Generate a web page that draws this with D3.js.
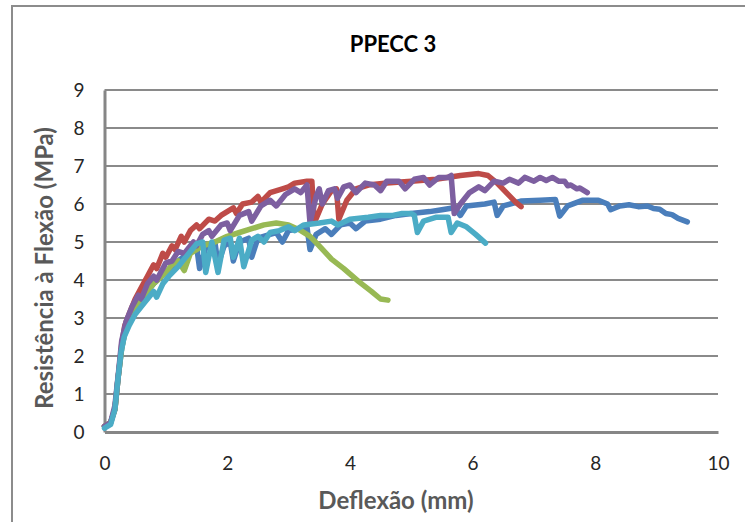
<!DOCTYPE html>
<html>
<head>
<meta charset="utf-8">
<script src="https://cdn.jsdelivr.net/npm/d3@7"></script>
<style>
  body { margin: 0; background: #fff; }
  text { font-family: Lato, "Open Sans", sans-serif; }
</style>
</head>
<body>
<svg id="chart" width="745" height="522"></svg>
<script>
const xTicks = [0, 2, 4, 6, 8, 10];
const yTicks = [0, 1, 2, 3, 4, 5, 6, 7, 8, 9];

// deflection (mm), strength (MPa)
const blue = [[0,0.15],[0.1,0.25],[0.17,0.6],[0.22,1.4],[0.28,2.2],[0.33,2.6],[0.45,3.1],[0.6,3.5],[0.8,3.9],[1.0,4.2],[1.2,4.5],[1.4,4.75],[1.5,4.9],[1.55,4.3],[1.65,4.85],[1.8,5.0],[1.85,4.4],[1.95,4.9],[2.05,5.0],[2.1,4.5],[2.2,5.0],[2.35,5.1],[2.4,4.6],[2.5,5.1],[2.7,5.2],[2.8,5.25],[2.9,5.0],[3.0,5.3],[3.2,5.35],[3.3,5.4],[3.35,4.8],[3.45,5.2],[3.6,5.35],[3.7,5.2],[3.85,5.45],[4.0,5.5],[4.1,5.35],[4.25,5.55],[4.5,5.6],[4.75,5.7],[5.0,5.75],[5.3,5.8],[5.5,5.85],[5.7,5.9],[5.8,5.7],[5.9,5.95],[6.2,6.0],[6.35,6.05],[6.4,5.7],[6.5,5.95],[6.8,6.08],[7.1,6.1],[7.35,6.12],[7.42,5.68],[7.55,5.95],[7.8,6.1],[8.05,6.1],[8.2,6.0],[8.25,5.85],[8.4,5.95],[8.55,5.98],[8.7,5.93],[8.85,5.95],[8.95,5.88],[9.05,5.86],[9.15,5.75],[9.25,5.72],[9.35,5.62],[9.5,5.53]];

const red = [[0,0.15],[0.1,0.25],[0.17,0.6],[0.22,1.4],[0.28,2.3],[0.33,2.8],[0.4,3.1],[0.5,3.5],[0.6,3.8],[0.7,4.1],[0.8,4.4],[0.85,4.3],[0.95,4.7],[1.0,4.6],[1.1,4.9],[1.15,4.8],[1.25,5.15],[1.3,5.0],[1.4,5.3],[1.5,5.45],[1.55,5.35],[1.7,5.6],[1.8,5.55],[1.9,5.7],[2.0,5.8],[2.1,5.9],[2.15,5.75],[2.25,6.0],[2.4,6.05],[2.5,6.2],[2.55,6.05],[2.7,6.3],[2.9,6.4],[3.0,6.45],[3.1,6.55],[3.3,6.6],[3.38,6.6],[3.42,5.5],[3.55,6.0],[3.7,6.35],[3.78,6.4],[3.82,5.6],[3.95,6.1],[4.1,6.4],[4.3,6.5],[4.6,6.55],[5.0,6.6],[5.4,6.65],[5.8,6.75],[6.1,6.8],[6.25,6.75],[6.4,6.55],[6.55,6.3],[6.7,6.05],[6.79,5.93]];

const green = [[0,0.15],[0.1,0.25],[0.17,0.6],[0.22,1.4],[0.28,2.2],[0.33,2.6],[0.45,3.1],[0.6,3.5],[0.8,3.9],[1.0,4.2],[1.1,4.4],[1.2,4.5],[1.3,4.25],[1.4,4.7],[1.6,4.9],[1.8,5.0],[2.0,5.15],[2.2,5.25],[2.4,5.35],[2.6,5.45],[2.8,5.5],[3.0,5.45],[3.2,5.3],[3.35,5.15],[3.5,4.9],[3.7,4.55],[3.9,4.3],[4.15,3.95],[4.35,3.7],[4.5,3.5],[4.62,3.47]];

const purple = [[0,0.15],[0.1,0.25],[0.17,0.7],[0.23,1.6],[0.28,2.4],[0.35,2.9],[0.45,3.3],[0.55,3.6],[0.6,3.5],[0.7,3.9],[0.8,4.1],[0.85,4.0],[1.0,4.45],[1.1,4.5],[1.2,4.75],[1.3,4.7],[1.45,5.0],[1.5,4.9],[1.6,5.2],[1.7,5.3],[1.75,5.15],[1.9,5.45],[2.0,5.5],[2.05,5.3],[2.2,5.7],[2.35,5.8],[2.4,5.55],[2.55,5.95],[2.7,6.1],[2.8,5.95],[2.95,6.25],[3.1,6.4],[3.2,6.3],[3.3,6.5],[3.35,5.5],[3.45,6.2],[3.5,6.4],[3.55,6.0],[3.65,6.35],[3.75,6.4],[3.8,6.15],[3.9,6.45],[4.0,6.5],[4.1,6.3],[4.25,6.55],[4.4,6.5],[4.5,6.35],[4.6,6.6],[4.8,6.6],[4.9,6.4],[5.05,6.65],[5.2,6.7],[5.3,6.5],[5.45,6.7],[5.6,6.7],[5.65,6.75],[5.7,5.75],[5.8,6.0],[5.95,6.3],[6.1,6.45],[6.2,6.35],[6.35,6.6],[6.5,6.55],[6.6,6.65],[6.75,6.55],[6.85,6.7],[7.0,6.6],[7.1,6.7],[7.2,6.62],[7.3,6.7],[7.4,6.6],[7.5,6.6],[7.55,6.48],[7.6,6.5],[7.7,6.4],[7.75,6.42],[7.87,6.3]];

const cyan = [[0,0.1],[0.1,0.2],[0.17,0.6],[0.22,1.4],[0.27,2.1],[0.32,2.5],[0.4,2.8],[0.5,3.1],[0.65,3.4],[0.8,3.7],[0.85,3.55],[0.95,3.9],[1.05,4.1],[1.2,4.35],[1.3,4.55],[1.4,4.75],[1.5,4.95],[1.6,5.0],[1.65,4.2],[1.75,5.0],[1.85,4.2],[1.95,5.05],[2.05,5.1],[2.1,4.6],[2.2,5.1],[2.27,4.35],[2.4,5.05],[2.5,5.15],[2.6,5.0],[2.7,5.25],[2.85,5.3],[3.0,5.4],[3.1,5.3],[3.25,5.45],[3.5,5.5],[3.7,5.55],[3.8,5.45],[4.0,5.6],[4.3,5.65],[4.5,5.7],[4.7,5.7],[4.85,5.75],[5.0,5.75],[5.05,5.7],[5.1,5.25],[5.2,5.55],[5.4,5.65],[5.6,5.65],[5.65,5.25],[5.75,5.5],[5.9,5.4],[6.05,5.2],[6.21,4.97]];

const series = [
  { values: blue,   color: '#4a7ebb' },
  { values: red,    color: '#be4b48' },
  { values: green,  color: '#98b954' },
  { values: purple, color: '#7d5fa0' },
  { values: cyan,   color: '#4bacc6' }
];

const svg = d3.select('#chart');

// outer chart frame
svg.append('rect')
  .attr('x', 12)
  .attr('y', 6)
  .attr('width', 760)
  .attr('height', 560)
  .attr('fill', 'none')
  .attr('stroke', '#8c8c8c')
  .attr('stroke-width', 2);

const x = d3.scaleLinear()
  .domain([0, 10])
  .range([104.5, 718]);

const y = d3.scaleLinear()
  .domain([0, 9])
  .range([432, 90]);

// gridlines
svg.append('g')
  .selectAll('line')
  .data(yTicks.slice(1))
  .join('line')
  .attr('x1', x(0))
  .attr('x2', x(10))
  .attr('y1', d => y(d))
  .attr('y2', d => y(d))
  .attr('stroke', '#8a8a8a')
  .attr('stroke-width', 2);

// axes
const xAxis = svg.append('g')
  .attr('transform', `translate(0, ${y(0)})`)
  .call(d3.axisBottom(x).tickValues(xTicks).tickSize(0).tickPadding(31));

const yAxis = svg.append('g')
  .attr('transform', `translate(${x(0)}, 0)`)
  .call(d3.axisLeft(y).tickValues(yTicks).tickSize(0).tickPadding(20));

[xAxis, yAxis].forEach(a => {
  a.select('.domain').attr('stroke', '#868686').attr('stroke-width', 3);
  a.selectAll('text')
    .attr('font-size', 19)
    .attr('fill', '#262626')
    .style('font-family', 'Lato, sans-serif');
});
xAxis.selectAll('text').attr('dy', '0.35em');

const line = d3.line()
  .x(d => x(d[0]))
  .y(d => y(d[1]));

svg.append('g')
  .selectAll('path')
  .data(series)
  .join('path')
  .attr('d', d => line(d.values))
  .attr('fill', 'none')
  .attr('stroke', d => d.color)
  .attr('stroke-width', 5.5)
  .attr('stroke-linejoin', 'round')
  .attr('stroke-linecap', 'round');

// titles
svg.append('text')
  .attr('x', 393)
  .attr('y', 52)
  .attr('text-anchor', 'middle')
  .attr('font-size', 22)
  .attr('font-weight', 'bold')
  .attr('fill', '#000')
  .text('PPECC 3');

svg.append('text')
  .attr('x', 396)
  .attr('y', 509)
  .attr('text-anchor', 'middle')
  .attr('font-size', 24)
  .attr('font-weight', 'bold')
  .attr('fill', '#595959')
  .text('Deflexão (mm)');

svg.append('text')
  .attr('transform', 'translate(53, 268) rotate(-90)')
  .attr('text-anchor', 'middle')
  .attr('font-size', 24)
  .attr('font-weight', 'bold')
  .attr('fill', '#595959')
  .text('Resistência à Flexão (MPa)');
</script>
</body>
</html>
